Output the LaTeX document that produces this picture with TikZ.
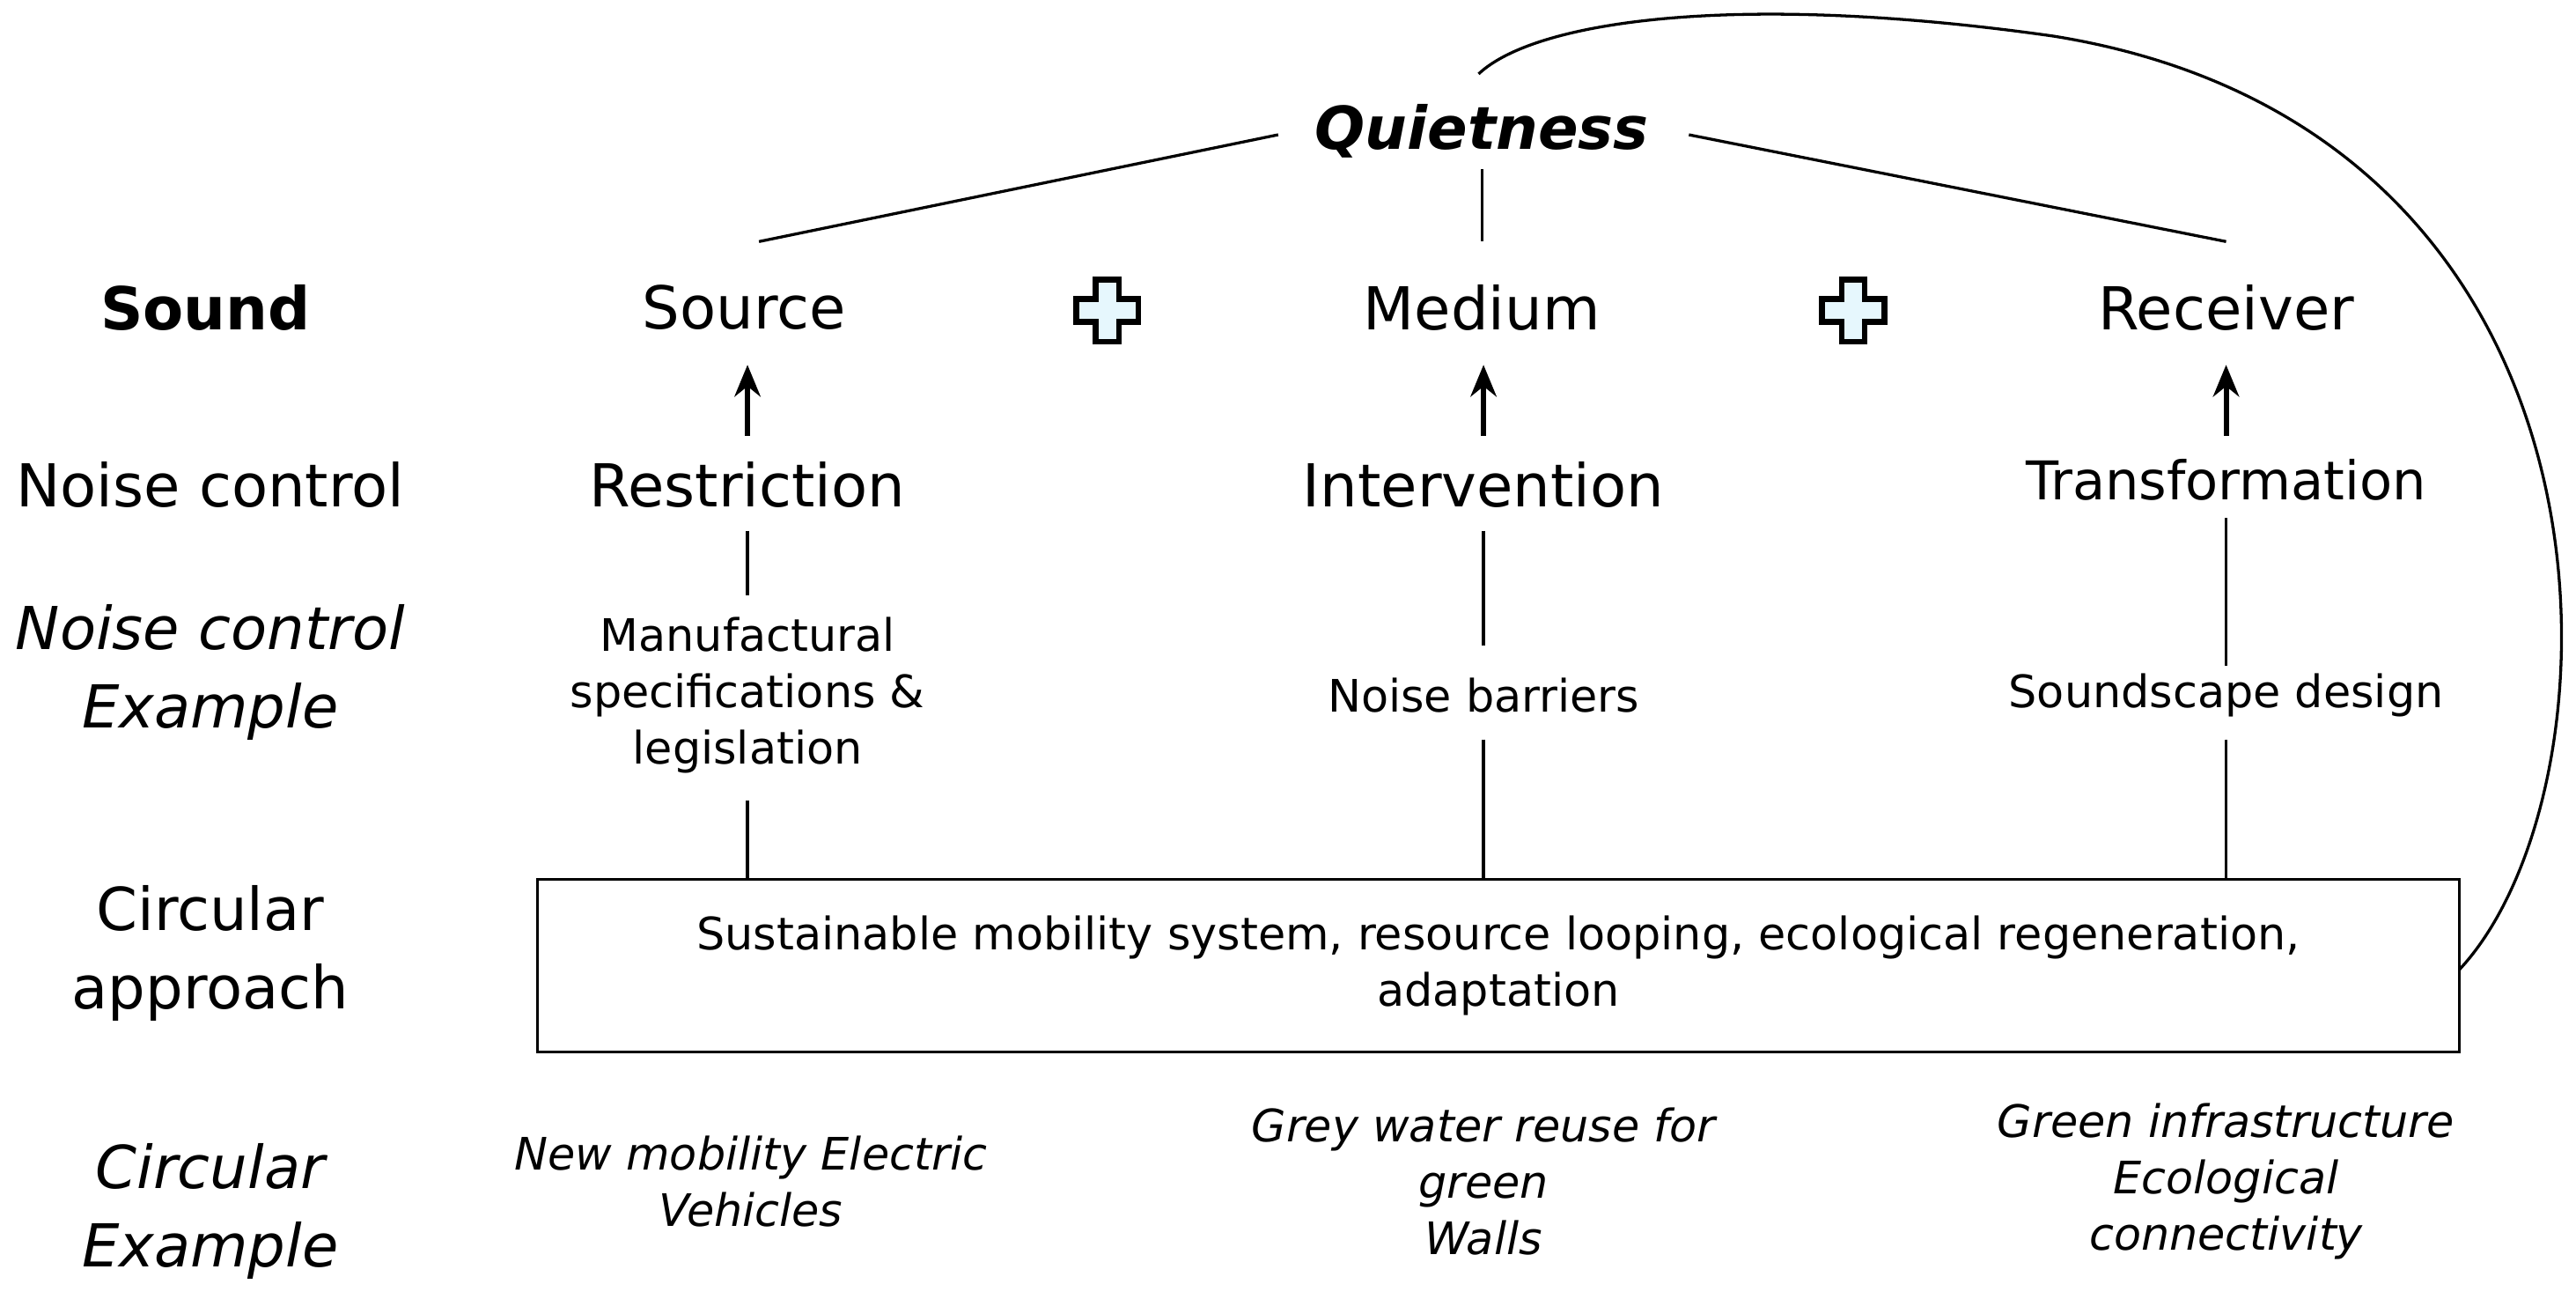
\documentclass[tikz,border=0pt]{standalone}
\usepackage{fontspec}
\setmainfont{DejaVu Sans}
\usetikzlibrary{arrows.meta}
\begin{document}
\begin{tikzpicture}[x=0.02cm,y=-0.02cm,
  big/.style={font=\fontsize{20.5}{25}\selectfont},
  mid/.style={font=\fontsize{18.5}{22}\selectfont},
  sm/.style={font=\fontsize{15.5}{19.5}\selectfont,align=center},
  ex/.style={font=\fontsize{15.5}{19.5}\selectfont\itshape,align=center},
  ln/.style={line width=1pt},
  arr/.style={line width=1.8pt,-{Stealth[length=11pt,width=9pt]}}]
\useasboundingbox (0,0) rectangle (1568,790);
\node[font=\fontsize{20.5}{25}\selectfont\bfseries\itshape] (q) at (902,80) {Quietness};
\node[font=\fontsize{20.5}{25}\selectfont\bfseries] (sound) at (125,187) {Sound};
\node[big] (src) at (453,187) {Source};
\node[big] (med) at (902,187) {Medium};
\node[big] (rec) at (1355,187) {Receiver};
\coordinate (ql) at (778,82); \coordinate (qr) at (1028,82);
\coordinate (sl) at (462,147); \coordinate (sr) at (1355,147);
\coordinate (qm) at (902,103); \coordinate (mm) at (902,147);
\draw[ln] (ql) -- (sl); \draw[ln] (qr) -- (sr); \draw[ln] (qm) -- (mm);
\foreach \n/\x in {p1/674,p2/1128}{
  \draw[line width=2pt,fill=cyan!10] (\x-7,189-19) -- (\x+7,189-19) -- (\x+7,189-7) -- (\x+19,189-7) -- (\x+19,189+7) -- (\x+7,189+7) -- (\x+7,189+19) -- (\x-7,189+19) -- (\x-7,189+7) -- (\x-19,189+7) -- (\x-19,189-7) -- (\x-7,189-7) -- cycle;
}
\node[big] (nc) at (128,295) {Noise control};
\node[big] (res) at (455,295) {Restriction};
\node[big] (int) at (903,295) {Intervention};
\node[mid] (tra) at (1355,292) {Transformation};
\foreach \x in {455,903,1355}{\coordinate (a\x) at (\x,265); \coordinate (b\x) at (\x,222); \draw[arr] (a\x) -- (b\x);}
\node[font=\fontsize{20.5}{27}\selectfont\itshape,align=center] (nce) at (128,409) {Noise control\\Example};
\node[sm] (man) at (455,423) {Manufactural\\specifications \&\\legislation};
\node[sm] (nb) at (903,423) {Noise barriers};
\node[sm] (sd) at (1355,423) {Soundscape design};
\node[draw,line width=1pt,minimum width=1170*0.02cm,minimum height=105*0.02cm,sm] (box) at (912,587.5) {Sustainable mobility system, resource looping, ecological regeneration,\\adaptation};
\foreach \x/\ya/\yb/\yc in {455/323/362/487,903/323/393/450,1355/315/405/450}{
  \coordinate (u\x) at (\x,\ya); \coordinate (v\x) at (\x,\yb); \coordinate (w\x) at (\x,\yc); \coordinate (z\x) at (\x,535);
  \draw[ln] (u\x) -- (v\x); \draw[ln] (w\x) -- (z\x);}
\node[align=center,font=\fontsize{20.5}{27}\selectfont] (ca) at (128,580) {Circular\\approach};
\node[align=center,font=\fontsize{20.5}{27}\selectfont\itshape] (ce) at (128,737) {Circular\\Example};
\node[ex] (e1) at (457,719) {New mobility Electric\\Vehicles};
\node[ex] (e2) at (903,719) {Grey water reuse for\\green\\Walls};
\node[ex] (e3) at (1355,719) {Green infrastructure\\Ecological\\connectivity};
\coordinate (c0) at (1497,590); \coordinate (c1) at (1250,22); \coordinate (c2) at (900,45);
\draw[ln] (c0) .. controls (1600,480) and (1610,80) .. (c1) .. controls (1060,-5) and (935,12) .. (c2);
\end{tikzpicture}
\end{document}
